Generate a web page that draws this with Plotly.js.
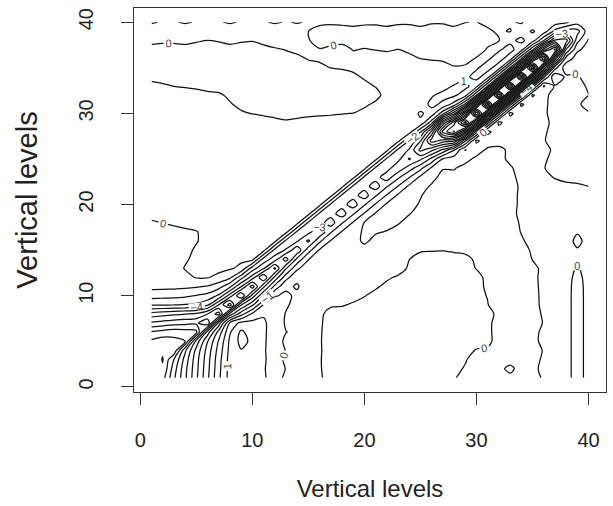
<!DOCTYPE html>
<html>
<head>
<meta charset="utf-8">
<script src="https://cdn.plot.ly/plotly-3.0.1.min.js"></script>
<style>
  html, body { margin: 0; padding: 0; background: #ffffff; }
  #chart { width: 613px; height: 506px; }
</style>
</head>
<body>
<div id="chart"></div>
<script>
// Vertical level index used on both axes
const levelIndex = [1,2,3,4,5,6,7,8,9,10,11,12,13,14,15,16,17,18,19,20,
                    21,22,23,24,25,26,27,28,29,30,31,32,33,34,35,36,37,38,39,40];

// Lower-left block: rows are y = 1..16, columns are x = 1..9
const cornerBlock = [
  [-10.2, -10.4, -8.2, -6.2, -4.2, -2.2, -0.2, 1.4, 1.8],
  [-10.8, -10.9, -8.5, -6.3, -4.3, -2.3, -0.3, 1.4, 1.85],
  [-10.4, -11.05, -9.0, -6.6, -4.4, -2.4, -0.4, 1.4, 1.9],
  [-10.6, -10.9, -10.8, -7.2, -4.7, -2.6, -0.6, 1.3, 1.95],
  [-10.2, -10.5, -10.3, -10.05, -5.6, -3.05, -0.9, 1.2, 2.3],
  [-9.1, -9.4, -9.6, -9.5, -9.3, -4.5, -1.6, 0.9, 2.2],
  [-7.2, -7.4, -7.6, -7.7, -7.8, -8.8, -3.6, 0.2, 1.3],
  [-5.4, -5.6, -5.8, -5.95, -6.2, -7.0, -8.5, -3.6, -1.4],
  [-2.9, -2.93, -2.97, -3.05, -3.2, -3.8, -6.0, -8.5, -4.1],
  [-1.6, -1.65, -1.7, -1.8, -2.05, -2.3, -3.2, -5.5, -8.0],
  [-0.7, -0.72, -0.75, -0.8, -0.9, -1.1, -1.6, -2.8, -5.0],
  [-0.45, -0.45, -0.4, -0.25, 0.05, 0.05, -0.25, -0.8, -2.6],
  [-0.4, -0.4, -0.35, 0.05, 0.2, 0.3, 0.25, 0.1, -0.2],
  [-0.35, -0.35, -0.3, -0.1, 0.2, 0.3, 0.3, 0.3, 0.15],
  [-0.3, -0.3, -0.28, -0.2, 0.1, 0.3, 0.3, 0.3, 0.3],
  [-0.25, -0.25, -0.25, -0.22, -0.05, 0.25, 0.3, 0.3, 0.3]
];

// Diagonal band: one row per column x = 10..40, values at y = x + offset
const bandOffsets = [-4, -3, -2, -1, 0, 1, 2, 3, 4, 5, 6];
const bandFirstColumn = 10;
const bandValues = [
  [1.5, 1.3, 0.2, -2.2, -4.6, -7.5, -4.5, -2.5, 0.3, 0.35, 0.3],      // x=10
  [1.15, 0.9, 0.05, -2.0, -4.2, -7.0, -3.9, -2.4, 0.3, 0.35, 0.3],    // x=11
  [0.55, 0.45, -0.05, -1.7, -3.7, -6.2, -3.5, -2.3, 0.25, 0.35, 0.3], // x=12
  [0.1, 0.1, -0.1, -1.4, -3.1, -5.5, -3.1, -2.25, 0.3, 0.35, 0.3],    // x=13
  [-0.1, 0.05, -0.1, -1.2, -2.7, -4.8, -2.9, -2.2, 0.3, 0.3, 0.3],    // x=14
  [-0.25, -0.2, -0.3, -1.05, -2.4, -4.2, -2.7, -2.2, 0.3, 0.3, 0.3],  // x=15
  [-0.3, -0.3, -0.4, -0.9, -2.2, -3.8, -2.6, -2.2, 0.3, 0.3, 0.3],    // x=16
  [-0.3, -0.3, -0.45, -0.9, -2.1, -3.5, -2.6, -2.2, 0.3, 0.3, 0.3],   // x=17
  [-0.25, -0.3, -0.45, -0.9, -2.1, -3.5, -2.6, -2.2, 0.3, 0.3, 0.3],  // x=18
  [-0.1, -0.2, -0.4, -0.9, -2.1, -3.5, -2.6, -2.2, 0.3, 0.3, 0.3],    // x=19
  [0.1, 0.15, 0.05, -0.9, -2.1, -3.5, -2.6, -2.2, 0.3, 0.3, 0.3],     // x=20
  [0.05, 0.2, 0.1, -0.9, -2.1, -3.5, -2.6, -2.2, 0.3, 0.3, 0.3],      // x=21
  [0.15, 0.25, 0.15, -0.9, -2.1, -3.55, -2.6, -2.2, 0.3, 0.3, 0.3],   // x=22
  [0.15, 0.3, 0.15, -0.95, -2.2, -3.7, -2.7, -2.2, 0.3, 0.35, 0.3],   // x=23
  [0.1, 0.3, 0.2, -1.05, -2.5, -4.1, -3.1, -2.05, 0.5, 0.7, 0.4],     // x=24
  [0.02, 0.3, 0.2, -1.3, -3.2, -5.3, -3.9, -1.8, 0.8, 1.15, 0.5],     // x=25
  [-0.1, 0.25, 0.15, -1.7, -4.3, -7.5, -5.2, -1.5, 0.6, 1.25, 0.9],   // x=26
  [-0.25, 0.05, 0.1, -2.8, -6.6, -10.4, -7.1, -1.6, 0.8, 1.3, 0.6],   // x=27
  [0.05, 0.5, -1.1, -6.2, -12.1, -10.6, -4.6, -0.4, 1.2, 1.1, 0.3],   // x=28
  [0.2, 1.05, -2.2, -8.5, -14.5, -9.1, -3.2, 0.4, 1.3, 0.8, 0.1],     // x=29
  [0.3, 1.25, -2.5, -9.2, -15.95, -9.6, -2.95, 0.4, 1.3, 0.9, 0.05],  // x=30
  [0.3, 1.3, -2.5, -9.4, -16.5, -9.7, -3.05, 0.45, 1.35, 0.9, 0.05],  // x=31
  [0.3, 1.3, -2.5, -9.6, -16.9, -9.8, -3.1, 0.5, 1.35, 0.9, -0.05],   // x=32
  [0.25, 1.3, -2.5, -9.6, -16.9, -9.8, -3.1, 0.5, 1.3, 0.8, -0.05],   // x=33
  [0.2, 1.25, -2.6, -9.4, -16.6, -9.5, -3.05, 0.45, 1.2, 0.6, -0.1],  // x=34
  [0.1, 1.2, -2.5, -8.95, -15.8, -8.95, -2.8, 0.5, 1.1, 0.5, null],   // x=35
  [0.05, 1.1, -2.2, -7.8, -13.8, -7.4, -1.95, 0.55, 0.9, null, null], // x=36
  [-0.1, 0.9, -1.4, -5.6, -10.2, -5.2, -1.3, 0.5, null, null, null],  // x=37
  [-0.2, 0.6, -0.5, -2.95, -5.5, -2.4, 0.2, null, null, null, null],  // x=38
  [0.1, 0.4, -0.15, -1.3, -2.4, -0.6, null, null, null, null, null],  // x=39
  [0.2, 0.3, 0.1, -0.4, -0.9, null, null, null, null, null, null]     // x=40
];

// Readings away from the band: [x, y, value]
const fieldPoints = [
  // left pocket edge and upper-left plateau
  [1,17,-0.15],[3,17,-0.12],[5,17,-0.03],[1,18,-0.05],[3,18,0.06],[5,18,0.2],[7,17,0.3],
  [1,20,0.3],[1,23,0.35],[1,26,0.35],[1,29,0.3],[1,31,0.25],
  [4,20,0.35],[4,24,0.35],[4,28,0.3],[5,31,0.2],
  [7,20,0.3],[7,24,0.35],[7,28,0.3],[7,31,0.15],
  [10,18,0.3],[10,21,0.35],[10,25,0.35],[10,28,0.2],
  [13,21,0.3],[13,25,0.35],[13,28,0.25],
  [16,24,0.3],[16,28,0.3],[16,29,0.15],
  [19,27,0.3],[19,29,0.2],[22,30,0.25],[21,30,0.2],
  // upper-left trough touching the left edge
  [1,33,0.15],[1,34,-0.15],[4,32,0.2],[4,34,-0.3],[7,32,0.05],[7,34,-0.3],
  [10,29,0.2],[10,31,-0.25],[13,30,-0.15],[16,31,-0.3],[19,31,-0.25],[21,32,-0.1],
  [23,33,0.3],[20,35,0.15],
  [1,35,-0.3],[1,36,-0.3],[4,36,-0.3],[7,36,-0.3],[10,33,-0.35],[10,36,-0.3],
  [13,33,-0.35],[16,33,-0.3],[19,33,-0.2],
  [1,37,-0.2],[1,38,0.15],[4,37,-0.2],[4,38,0.15],[8,37,-0.2],[8,38,0.15],
  [12,37,-0.05],[12,38,0.2],[14,36,-0.05],[15,37,0.15],
  // top rows
  [1,39,0.3],[4,39,0.3],[8,39,0.3],[12,39,0.3],[14,39,0.2],
  [1,40,-0.05],[4,40,-0.05],[8,40,-0.05],[12,40,-0.05],[14,40,-0.03],
  [17,36,0.15],[20,36,0.2],[23,36,0.25],[18,37,0.1],
  [16,38,-0.15],[16,39,-0.25],[19,38,-0.25],[19,39,-0.25],[22,38,-0.25],[22,39,-0.25],
  [25,37,-0.2],[25,38,-0.3],[25,39,-0.25],[28,37,-0.3],[28,39,-0.25],[30,37,-0.25],[30,39,-0.2],
  [27,35,0.2],[27,36,-0.08],[27,34,0.35],[28,35,0.05],[28,36,-0.2],[29,36,-0.2],
  [31,38,-0.15],[31,39,-0.1],[32,39,0.1],
  [16,40,0.15],[19,40,0.2],[22,40,0.2],[25,40,0.2],[28,40,0.2],[31,40,0.15],[32,40,0.2],[33,40,0.1],
  [24,32,0.3],[24,34,0.25],[26,33,0.2],
  // right of the lower-left fan
  [10,1,1.6],[10,3,1.7],[10,5,1.8],[11,1,1.15],[11,3,1.15],[11,5,1.15],[11,6,1.15],
  [12,1,0.5],[12,3,0.5],[12,5,0.5],[12,7,0.55],
  [13,1,-0.25],[13,3,-0.2],[13,5,-0.2],[13,7,-0.1],[13,8,-0.05],
  [14,1,-0.3],[14,4,-0.3],[14,7,-0.3],[14,9,-0.25],
  [15,2,-0.3],[15,5,-0.3],[15,8,-0.3],[15,10,-0.3],
  [16,11,-0.3],[17,12,-0.3],[18,10,-0.25],[18,13,-0.3],[19,11,-0.2],[19,14,-0.25],
  [20,11,-0.2],[20,13,-0.25],[20,15,-0.2],
  // arch in the lower middle
  [17,2,0.2],[17,5,0.2],[17,8,0.15],[18,3,0.3],[18,7,0.3],
  [20,2,0.35],[20,5,0.35],[20,8,0.25],[22,2,0.35],[22,5,0.35],[22,8,0.35],[22,10,0.25],
  [24,3,0.35],[24,6,0.35],[24,9,0.35],[24,12,0.2],[26,2,0.3],[26,5,0.35],[26,9,0.35],[26,13,0.2],
  [28,5,0.3],[28,9,0.3],[28,13,0.2],[30,6,0.2],[30,9,0.25],[30,12,0.1],[28,2,0.15],
  [28,1,0.05],[29,1,-0.2],[29,3,0.05],[30,3,-0.25],[31,5,0.15],[32,5,-0.25],[31,8,0.15],
  [32,9,-0.3],[31,13,-0.2],[29,14,0.1],[29,16,-0.25],
  [21,9,0.25],[21,12,-0.2],[23,11,0.2],[23,13,-0.15],[25,14,0.15],[25,16,-0.2],[27,14,0.2],[27,16,-0.2],
  // below the band, middle right
  [22,15,-0.25],[22,16,-0.2],[21,16,-0.15],[23,17,-0.1],[24,17,-0.25],[24,18,-0.1],
  [26,18,-0.3],[26,20,-0.15],[28,19,-0.3],[28,21,-0.3],[30,18,-0.3],[30,22,-0.3],
  [27,22,-0.3],[28,23,-0.2],[29,24,-0.2],[30,25,-0.15],[31,26,-0.1],[32,26,-0.1],[33,25,0.05],
  // lower right
  [31,2,-0.3],[32,3,-0.3],[33,1,-0.15],[33,2,0.15],[33,3,-0.25],[34,2,-0.25],[34,5,-0.25],
  [33,7,-0.3],[33,11,-0.3],[34,10,-0.2],[32,14,-0.3],[32,18,-0.3],[32,22,-0.3],[33,19,-0.2],[33,23,-0.15],
  [35,1,-0.15],[35,4,-0.2],[35,7,-0.2],[35,10,-0.2],[35,13,-0.1],[34,15,-0.1],
  [36,2,0.1],[36,5,0.1],[36,10,0.15],[36,14,0.2],[37,2,0.3],[37,6,0.3],[37,10,0.3],[37,14,0.3],
  [37,18,0.25],[36,18,0.25],[35,17,0.15],[34,19,0.15],[35,21,0.2],[34,23,0.15],[34,26,0.2],
  [35,25,0.2],[36,22,0.15],[36,26,0.15],[36,29,0.1],[35,28,0.2],[34,28,0.2],[35,30,0.15],
  [37,24,-0.15],[37,27,-0.2],[37,30,-0.1],[38,25,-0.3],[38,29,-0.3],[38,32,-0.15],
  [39,24,-0.25],[39,28,-0.3],[39,32,-0.2],[40,23,-0.15],[40,27,-0.1],[40,31,0.15],[40,34,0.2],[39,34,-0.05],
  // narrow strip along the right edge
  [38,1,0.25],[38,2,0.25],[38,3,0.25],[38,4,0.25],[38,5,0.25],[38,6,0.25],[38,7,0.25],
  [38,8,0.25],[38,9,0.25],[38,10,0.25],[38,11,0.25],[38,12,0.25],[38,13,0.2],[38,14,0.2],
  [38,15,0.25],[38,16,0.25],[38,17,0.25],[38,18,0.25],[38,19,0.25],[38,20,0.2],[38,21,0.15],
  [39,1,-0.3],[39,2,-0.3],[39,3,-0.3],[39,4,-0.3],[39,5,-0.3],[39,6,-0.3],[39,7,-0.3],
  [39,8,-0.3],[39,9,-0.3],[39,10,-0.3],[39,11,-0.28],[39,12,-0.2],[39,13,-0.05],
  [39,14,0.1],[39,15,0.05],[39,16,-0.15],[39,17,0.05],[39,18,0.1],[39,19,0.15],[39,20,0.15],[39,21,0.1],[39,22,0.05],
  [40,1,0.25],[40,2,0.25],[40,3,0.25],[40,4,0.25],[40,5,0.25],[40,6,0.25],[40,7,0.25],
  [40,8,0.25],[40,9,0.25],[40,10,0.25],[40,11,0.25],[40,12,0.25],[40,13,0.2],[40,14,0.2],
  [40,15,0.2],[40,16,0.2],[40,17,0.2],[40,18,0.2],[40,19,0.15],[40,20,0.15],[40,21,0.1]
];

// Contour levels: the deep core levels are drawn without labels
const deepLevels = { start: -17, end: -5, size: 1 };
const labelledLevels = { start: -4, end: 2, size: 1 };
const axisTicks = [0, 10, 20, 30, 40];
const axisTitle = 'Vertical levels';

// Assemble the grid (row = y, column = x); unset cells are left for the contour trace to fill
const zGrid = levelIndex.map(() => levelIndex.map(() => null));
function setCell(x, y, v) {
  if (v === null || v === undefined) return;
  if (x < 1 || x > 40 || y < 1 || y > 40) return;
  zGrid[y - 1][x - 1] = v;
}
cornerBlock.forEach((row, r) => row.forEach((v, c) => setCell(c + 1, r + 1, v)));
bandValues.forEach((col, k) => {
  const x = bandFirstColumn + k;
  col.forEach((v, j) => setCell(x, x + bandOffsets[j], v));
});
fieldPoints.forEach(([x, y, v]) => {
  if (zGrid[y - 1][x - 1] === null) setCell(x, y, v);
});

const textFont = 'Liberation Sans, Arial, Helvetica, sans-serif';

function contourTrace(levels, withLabels) {
  return {
    type: 'contour',
    x: levelIndex,
    y: levelIndex,
    z: zGrid,
    connectgaps: true,
    showscale: false,
    hoverinfo: 'skip',
    colorscale: [[0, '#111111'], [1, '#111111']],
    contours: Object.assign({
      coloring: 'lines',
      showlabels: withLabels,
      labelfont: { family: textFont, size: 11, color: '#444444' }
    }, levels),
    line: { width: 1.25, smoothing: 0.8 }
  };
}

const axisCommon = {
  range: [-0.56, 41.56],
  tickvals: axisTicks,
  ticktext: axisTicks.map(String),
  ticks: 'outside',
  ticklen: 12,
  tickwidth: 1,
  tickcolor: '#333333',
  showline: true,
  mirror: true,
  linecolor: '#333333',
  linewidth: 1.3,
  showgrid: false,
  zeroline: false,
  fixedrange: true
};

const layout = {
  width: 613,
  height: 506,
  margin: { l: 134, r: 7, t: 8, b: 114, pad: 0 },
  paper_bgcolor: '#ffffff',
  plot_bgcolor: '#ffffff',
  showlegend: false,
  xaxis: Object.assign({}, axisCommon, {
    tickfont: { family: textFont, size: 20, color: '#222222' },
    ticklabelstandoff: 18,
    title: { text: axisTitle, font: { family: textFont, size: 24, color: '#222222' }, standoff: 30 }
  }),
  yaxis: Object.assign({}, axisCommon, {
    tickangle: -90,
    tickfont: { family: textFont, size: 20, color: '#222222' },
    ticklabelstandoff: 20,
    title: { text: axisTitle, font: { family: textFont, size: 29, color: '#222222' }, standoff: 28 }
  })
};

Plotly.newPlot('chart',
  [contourTrace(deepLevels, false), contourTrace(labelledLevels, true)],
  layout, { staticPlot: true, displayModeBar: false });
</script>
</body>
</html>
